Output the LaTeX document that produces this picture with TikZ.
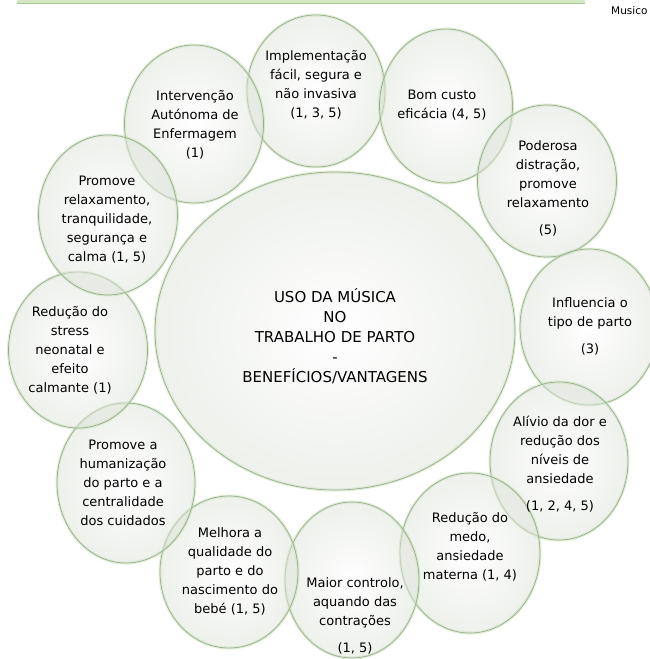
\documentclass[tikz,border=0pt]{standalone}
\usepackage{fontspec}
\setmainfont{DejaVu Sans}
\usepackage{tikz}
\usetikzlibrary{shapes.geometric}
\definecolor{bubline}{HTML}{9AAE8E}
\definecolor{bubglow}{HTML}{BFDCAA}
\definecolor{bubshade}{HTML}{DCE2D8}
\definecolor{barfill}{HTML}{D3E8C2}
\definecolor{barline}{HTML}{A8C98F}

\begin{document}
\begin{tikzpicture}[x=1pt, y=-1pt,
  bubble/.style={ellipse, inner sep=0pt, inner color=white, outer color=bubshade,
    fill opacity=0.5, draw=bubline, line width=0.7pt,
    preaction={draw=bubglow, line width=3pt, draw opacity=0.5}},
  txt/.style={align=center, inner sep=0pt, font=\fontsize{13}{19}\selectfont}]
  \useasboundingbox (0,0) rectangle (650,659);
  \fill[barfill] (17,0) rectangle (585,3);
  \draw[barline] (17,3) -- (585,3);
  \node[anchor=west, inner sep=0pt, font=\fontsize{10.5}{12}\selectfont] (musico) at (611,11) {Musico};

  \node[bubble, minimum width=360pt, minimum height=318pt] (centre) at (335,331) {};
  \node[bubble, minimum width=138pt, minimum height=152pt] (impl) at (316,91) {};
  \node[bubble, minimum width=139pt, minimum height=158pt] (interv) at (194,124) {};
  \node[bubble, minimum width=133pt, minimum height=154pt] (custo) at (446,106) {};
  \node[bubble, minimum width=139pt, minimum height=152pt] (distr) at (547,181) {};
  \node[bubble, minimum width=138pt, minimum height=156pt] (tipo) at (589,327) {};
  \node[bubble, minimum width=138pt, minimum height=158pt] (dor) at (559,461) {};
  \node[bubble, minimum width=140pt, minimum height=160pt] (medo) at (470,553) {};
  \node[bubble, minimum width=134pt, minimum height=156pt] (contr) at (352,580) {};
  \node[bubble, minimum width=138pt, minimum height=152pt] (qual) at (229,572) {};
  \node[bubble, minimum width=138pt, minimum height=160pt] (human) at (126,483) {};
  \node[bubble, minimum width=139pt, minimum height=156pt] (stress) at (78,350) {};
  \node[bubble, minimum width=139pt, minimum height=160pt] (relax) at (108,215) {};

  \node[txt, font=\fontsize{15}{20}\selectfont] (centreT) at (335,336) {USO DA MÚSICA\\NO\\TRABALHO DE PARTO\\-\\BENEFÍCIOS/VANTAGENS};
  \node[txt] (implT) at (316,85) {Implementação\\fácil, segura e\\não invasiva\\(1, 3, 5)};
  \node[txt] (intervT) at (195,125) {Intervenção\\Autónoma de\\Enfermagem\\(1)};
  \node[txt] (custoT) at (442,105) {Bom custo\\eficácia (4, 5)};
  \node[txt] (distrT) at (548,188) {Poderosa\\distração,\\promove\\relaxamento\\[8pt](5)};
  \node[txt] (tipoT) at (590,326) {Influencia o\\tipo de parto\\[8pt](3)};
  \node[txt] (dorT) at (560,464) {Alívio da dor e\\redução dos\\níveis de\\ansiedade\\[8pt](1, 2, 4, 5)};
  \node[txt] (medoT) at (470,547) {Redução do\\medo,\\ansiedade\\materna (1, 4)};
  \node[txt] (contrT) at (355,616) {Maior controlo,\\aquando das\\contrações\\[8pt](1, 5)};
  \node[txt] (qualT) at (230,571) {Melhora a\\qualidade do\\parto e do\\nascimento do\\bebé (1, 5)};
  \node[txt] (humanT) at (123,483) {Promove a\\humanização\\do parto e a\\centralidade\\dos cuidados};
  \node[txt] (stressT) at (70,350) {Redução do\\stress\\neonatal e\\efeito\\calmante (1)};
  \node[txt] (relaxT) at (107,220) {Promove\\relaxamento,\\tranquilidade,\\segurança e\\calma (1, 5)};
\end{tikzpicture}
\end{document}
